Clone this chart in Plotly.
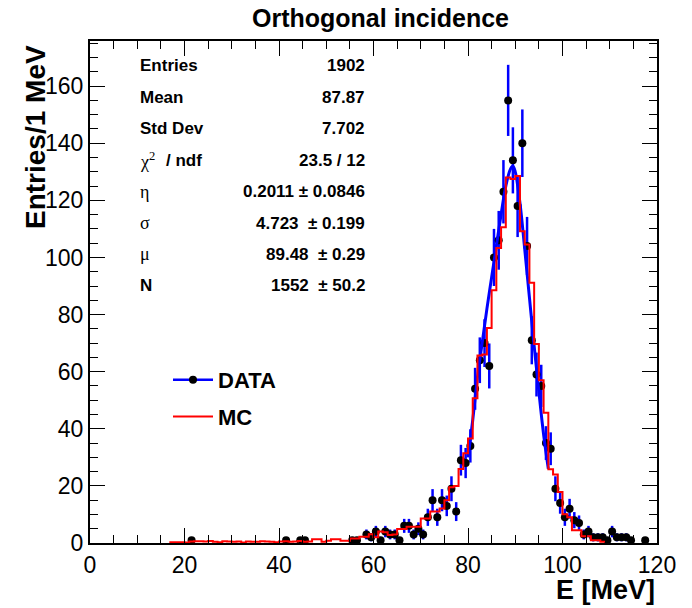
import numpy as np
import plotly.graph_objects as go

# ---------------- data ----------------
data_x = [21.5, 41.5, 44.5, 45.5, 55.5, 56.5, 58.5, 59.5, 60.5, 61.5, 62.5, 63.5,
          64.5, 65.5, 66.5, 67.5, 68.5, 69.5, 70.5, 71.5, 72.5, 73.5, 74.5, 75.5,
          76.5, 77.5, 78.5, 79.5, 80.5, 81.5, 82.5, 83.5, 84.5, 85.5, 86.5, 87.5,
          88.5, 89.5, 90.5, 91.5, 92.5, 93.5, 94.5, 95.5, 96.5, 97.5, 98.5, 99.5,
          100.5, 101.5, 102.5, 103.5, 104.5, 105.5, 106.5, 107.5, 108.5, 109.5,
          110.5, 111.5, 112.5, 113.5, 114.5, 117.5]
data_y = [1, 1, 1, 1, 1, 1, 3, 2, 4, 1, 4, 3,
          3, 1, 6, 6, 3, 5, 3, 9, 15, 9, 15, 13,
          19, 11, 29, 28, 34, 54, 64, 70, 62, 100, 106, 123,
          155, 134, 118, 140, 104, 71, 59, 55, 35, 33, 19, 14,
          9, 12, 8, 7, 3, 4, 2, 2, 2, 1,
          4, 2, 2, 2, 1, 1]

mc_low_edges = list(range(17, 109))
mc_values = [0.3, 0.3, 0.3, 0.2, 0.5, 0.6, 0.6, 0.5, 0.7, 0.4,
             0.3, 0.6, 0.5, 0.4, 0.5, 0.2, 0.5, 0.4, 0.4, 0.6,
             0.5, 0.4, 0.3, 0.5, 0.6, 0.4, 0.5, 0.7, 0.4, 0.5,
             1.3, 1.3, 0.4, 0.8, 1.3, 1.3, 0.8, 0.8, 1.6, 1.6,
             2.2, 2.2, 3.1, 2.0, 4.0, 3.8, 2.8, 3.0, 4.9, 4.9,
             5.7, 5.7, 5.7, 8.6, 8.6, 11.0, 11.0, 12.1, 15.0, 19.5,
             20.0, 25.9, 31.4, 36.6, 50.7, 65.7, 66.0, 75.3, 88.5, 103.3,
             110.6, 128.0, 127.5, 128.5, 109.2, 104.5, 91.1, 69.7, 57.0, 45.6,
             25.8, 24.0, 17.9, 10.1, 9.0, 4.5, 4.5, 2.4, 2.4, 1.0,
             1.0, 0.4]
mc_bin_width = 1

fit_x = [80.0, 81.0, 82.0, 83.0, 84.0, 85.0, 86.0, 87.0, 88.0, 89.0, 89.5,
         90.0, 91.0, 92.0, 93.0, 94.0, 95.0, 96.0, 97.0]
fit_y = [30, 43, 58, 70, 82, 93, 104, 115, 125, 131, 132,
         130, 119, 103, 86, 69, 53, 38, 26]

stat_labels = ["Entries", "Mean", "Std Dev", "χ", "η", "σ", "μ", "N"]
stat_values = ["1902", "87.87", "7.702", "23.5 / 12", "0.2011 ± 0.0846",
               "4.723\u00a0 ± 0.199", "89.48\u00a0 ± 0.29", "1552\u00a0 ± 50.2"]

title_text = "Orthogonal incidence"
x_title = "E [MeV]"
y_title = "Entries/1 MeV"

# ---------------- figure ----------------
W, H = 692, 608
L, R, T, B = 90, 35, 41, 65
pw, ph = W - L - R, H - T - B

def px2paper(px, py):
    return (px - L) / pw, (H - B - py) / ph

FONT = "Liberation Sans, Arial, Helvetica, sans-serif"
SERIF = "Liberation Serif, Times New Roman, serif"

fig = go.Figure()

# data with error bars
fig.add_trace(go.Scatter(
    x=data_x, y=data_y, mode="markers",
    marker=dict(color="black", size=8),
    error_y=dict(type="data", array=np.sqrt(np.array(data_y, dtype=float)),
                 color="#0000ff", thickness=2.5, width=0),
    showlegend=False))

# fit curve
fig.add_trace(go.Scatter(
    x=fit_x, y=fit_y, mode="lines", line=dict(color="#0000ff", width=3, shape="spline"),
    showlegend=False))

# MC step histogram
mc_x = [mc_low_edges[0]] + mc_low_edges + [mc_low_edges[-1] + mc_bin_width]
mc_y = [0] + mc_values + [mc_values[-1]]
fig.add_trace(go.Scatter(
    x=mc_x, y=mc_y, mode="lines", line=dict(color="#ff0000", width=2, shape="hv"),
    showlegend=False))

# legend entries
fig.add_trace(go.Scatter(x=[None], y=[None], mode="lines+markers", name="<b>DATA</b>",
                         line=dict(color="#0000ff", width=2.5),
                         marker=dict(color="black", size=8), legendgroup="a"))
fig.add_trace(go.Scatter(x=[None], y=[None], mode="lines", name="<b>MC</b>",
                         line=dict(color="#ff0000", width=2), legendgroup="b"))

ann = []
# title
tx, ty = px2paper(380, 18)
ann.append(dict(text=f"<b>{title_text}</b>", x=tx, y=ty, xref="paper", yref="paper",
                xanchor="center", yanchor="middle", showarrow=False,
                font=dict(family=FONT, size=25, color="black")))
# axis titles
ax, ay = px2paper(657, 590)
ann.append(dict(text=f"<b>{x_title}</b>", x=ax, y=ay, xref="paper", yref="paper",
                xanchor="right", yanchor="middle", showarrow=False,
                font=dict(family=FONT, size=27, color="black")))
yx, yy = px2paper(35, 137)
ann.append(dict(text=f"<b>{y_title}</b>", x=yx, y=yy, xref="paper", yref="paper",
                xanchor="center", yanchor="middle", showarrow=False, textangle=-90,
                font=dict(family=FONT, size=28, color="black")))

# stats box
for i, (lab, val) in enumerate(zip(stat_labels, stat_values)):
    py = 66 + 31.4 * i
    lx, ly = px2paper(138, py)
    rx, _ = px2paper(367, py)
    if lab in ("η", "σ", "μ"):
        ann.append(dict(text=lab, x=lx, y=ly, xref="paper", yref="paper",
                        xanchor="left", yanchor="middle", showarrow=False,
                        font=dict(family=SERIF, size=18, color="black")))
    elif lab == "χ":
        ann.append(dict(text="χ<sup>2</sup>", x=lx, y=ly, xref="paper", yref="paper",
                        xanchor="left", yanchor="middle", showarrow=False,
                        font=dict(family=SERIF, size=18, color="black")))
        nx, _ = px2paper(164, py)
        ann.append(dict(text="<b>/ ndf</b>", x=nx, y=ly, xref="paper", yref="paper",
                        xanchor="left", yanchor="middle", showarrow=False,
                        font=dict(family=FONT, size=17, color="black")))
    else:
        ann.append(dict(text=f"<b>{lab}</b>", x=lx, y=ly, xref="paper", yref="paper",
                        xanchor="left", yanchor="middle", showarrow=False,
                        font=dict(family=FONT, size=17, color="black")))
    ann.append(dict(text=f"<b>{val}</b>", x=rx, y=ly, xref="paper", yref="paper",
                    xanchor="right", yanchor="middle", showarrow=False,
                    font=dict(family=FONT, size=17, color="black")))

lgx, lgy = px2paper(168, 359)

axis_common = dict(showline=True, linecolor="black", linewidth=2, mirror="allticks",
                   ticks="inside", ticklen=15, tickwidth=1, tickcolor="black",
                   showgrid=False, zeroline=False,
                   tickfont=dict(family=FONT, size=23, color="black"),
                   minor=dict(ticks="inside", ticklen=8, tickwidth=1, tickcolor="black",
                              dtick=5, showgrid=False))

fig.update_layout(
    width=W, height=H,
    margin=dict(l=L, r=R, t=T, b=B),
    paper_bgcolor="white", plot_bgcolor="white",
    xaxis=dict(range=[0, 120], dtick=20, tick0=0, **axis_common),
    yaxis=dict(range=[0, 175.8], dtick=20, tick0=0, **axis_common),
    annotations=ann,
    showlegend=True,
    legend=dict(x=lgx, y=lgy, xanchor="left", yanchor="top", bgcolor="rgba(0,0,0,0)",
                font=dict(family=FONT, size=22, color="black"),
                tracegroupgap=5, itemwidth=40),
)

fig.write_html("out.html")
